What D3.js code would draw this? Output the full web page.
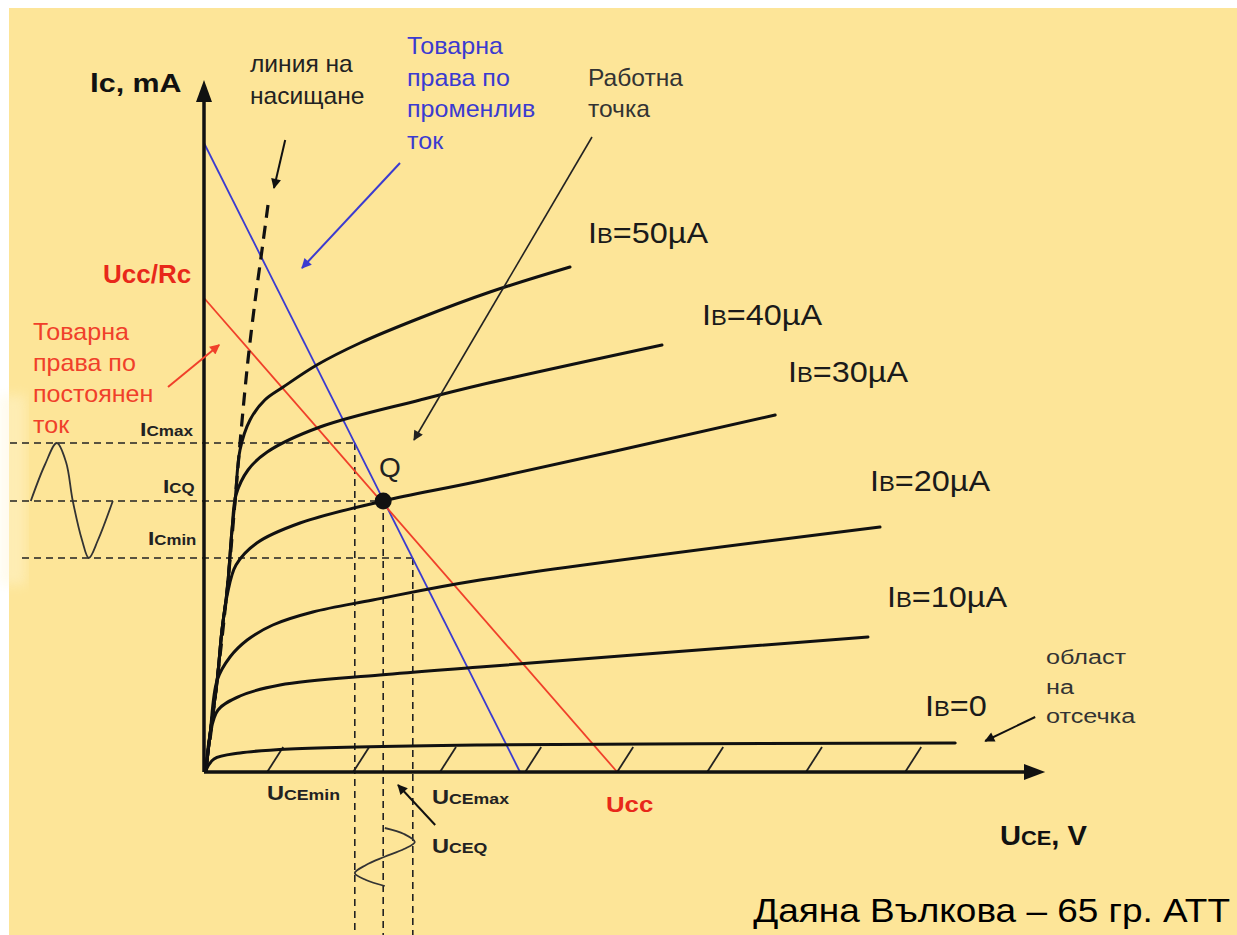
<!DOCTYPE html>
<html>
<head>
<meta charset="utf-8">
<script src="https://cdn.jsdelivr.net/npm/d3@7"></script>
<style>
  body { margin: 0; background: #fff; }
  svg { display: block; }
  text { font-family: "Liberation Sans", Arial, sans-serif; }
</style>
</head>
<body>
<div class="canvas"></div>
<script>
// base currents, µA
const baseCurrents = [0, 10, 20, 30, 40, 50];

// output characteristics, [Uce in V, Ic in mA]
const curveIb0 = [[0.05, 0.02], [0.25, 0.13], [0.9, 0.19], [2.15, 0.23], [6.9, 0.27], [18.78, 0.29]];
const curveIb10 = [[0.05, 0.02], [0.15, 0.37], [0.35, 0.62], [0.9, 0.76], [1.9, 0.87], [4.4, 0.97], [6.9, 1.05], [16.6, 1.35]];
const curveIb20 = [[0.05, 0.02], [0.15, 0.37], [0.33, 0.92], [0.65, 1.15], [1.08, 1.32], [1.72, 1.47], [2.72, 1.6], [4.22, 1.72], [6.9, 1.92], [16.9, 2.45]];
const curveIb30 = [[0.05, 0.02], [0.15, 0.37], [0.33, 0.92], [0.45, 1.42], [0.58, 1.77], [0.8, 2.07], [1.32, 2.29], [2.4, 2.49], [4.48, 2.71], [6.9, 2.91], [14.28, 3.57]];
const curveIb40 = [[0.05, 0.02], [0.15, 0.37], [0.33, 0.92], [0.45, 1.42], [0.58, 1.82], [0.7, 2.42], [0.8, 2.77], [1.1, 3.02], [1.58, 3.2], [2.9, 3.45], [5.4, 3.72], [6.9, 3.87], [11.45, 4.27]];
const curveIb50 = [[0.05, 0.02], [0.15, 0.37], [0.33, 0.92], [0.45, 1.42], [0.58, 1.82], [0.7, 2.42], [0.78, 2.72], [0.9, 3.22], [1.15, 3.52], [1.52, 3.72], [1.98, 3.85], [2.82, 4.07], [3.9, 4.29], [5.4, 4.54], [7.15, 4.8], [9.15, 5.05]];
const outputCurves = [curveIb0, curveIb10, curveIb20, curveIb30, curveIb40, curveIb50];

// saturation boundary (dashed)
const saturationLine = [[1.6, 5.67], [1.45, 5.22], [1.28, 4.72], [1.1, 4.12], [0.93, 3.42], [0.8, 2.82], [0.65, 2.12], [0.5, 1.52], [0.33, 0.92], [0.15, 0.32]];

// load lines
const dcLoadLine = [[0, 4.74], [10.33, 0]];
const acLoadLine = [[0, 6.29], [7.9, 0]];

// operating point and swing
const qPoint = [4.48, 2.71];
const icLevels = [3.29, 2.71, 2.14];   // Icmax, IcQ, Icmin
const uceLevels = [3.77, 4.48, 5.22];  // Ucemin, UceQ, Ucemax

// signal waveforms
const icWave = [[-4.33, 2.71], [-3.98, 3.07], [-3.68, 3.29], [-3.45, 3.1], [-3.28, 2.71], [-3.05, 2.32], [-2.88, 2.14], [-2.65, 2.32], [-2.28, 2.71]];
const uceWave = [[4.52, -0.56], [5.0, -0.62], [5.27, -0.7], [5.0, -0.77], [4.5, -0.85], [4.05, -0.93], [3.77, -1.01], [4.05, -1.08], [4.52, -1.14]];

// cut-off hatch marks along Uce
const cutoffHatch = [1.58, 3.73, 5.9, 8.03, 10.33, 12.58, 15.05, 17.53];

// annotation arrows [from, to]
const arrows = [
  { from: [2.03, 6.32], to: [1.75, 5.84], color: '#111', w: 2 },
  { from: [4.9, 6.09], to: [2.45, 5.04], color: '#3b3bd0', w: 2 },
  { from: [-0.9, 3.85], to: [0.38, 4.27], color: '#f0402a', w: 2 },
  { from: [9.7, 6.35], to: [5.25, 3.32], color: '#222', w: 1.6 },
  { from: [5.78, -0.53], to: [4.85, -0.13], color: '#111', w: 2 },
  { from: [20.78, 0.55], to: [19.53, 0.31], color: '#111', w: 2 }
];

const width = 1237, height = 935;

const svg = d3.select('.canvas')
  .append('svg')
  .attr('width', width)
  .attr('height', height);

// scales
const x = d3.scaleLinear().domain([0, 20]).range([204, 1004]);
const y = d3.scaleLinear().domain([0, 7]).range([772, 72]);

const defs = svg.append('defs');
defs.append('filter').attr('id', 'blur')
  .append('feGaussianBlur').attr('stdDeviation', 6);

const colors = [...new Set(arrows.map(a => a.color))];
colors.forEach((c, i) => {
  defs.append('marker')
    .attr('id', 'ah' + i)
    .attr('viewBox', '0 0 10 10')
    .attr('refX', 9).attr('refY', 5)
    .attr('markerUnits', 'userSpaceOnUse')
    .attr('markerWidth', 12).attr('markerHeight', 10)
    .attr('orient', 'auto')
    .append('path')
      .attr('d', 'M0,0 L10,5 L0,10 z')
      .attr('fill', c);
});

// panel background
svg.append('rect')
  .attr('x', 9).attr('y', 8)
  .attr('width', width - 9).attr('height', height - 8)
  .attr('fill', '#fde598');
svg.append('rect')
  .attr('x', 0).attr('y', 395)
  .attr('width', 26).attr('height', 190)
  .attr('fill', '#fff6d6')
  .attr('opacity', 0.45)
  .attr('filter', 'url(#blur)');

const line = d3.line().x(d => x(d[0])).y(d => y(d[1]));
const smooth = d3.line().x(d => x(d[0])).y(d => y(d[1])).curve(d3.curveCatmullRom.alpha(0.5));

const dashStyle = sel => sel
  .attr('fill', 'none')
  .attr('stroke', '#222')
  .attr('stroke-width', 1.6)
  .attr('stroke-dasharray', '7,5');

// dashed swing projections
const leftStart = [-4.85, -4.85, -4.55];
const bottomEnd = -1.63;
svg.append('g').selectAll('path')
  .data(icLevels)
  .enter().append('path')
    .attr('d', (d, i) => line([[leftStart[i], d], [uceLevels[i], d]]))
    .call(dashStyle);
svg.append('g').selectAll('path')
  .data(uceLevels)
  .enter().append('path')
    .attr('d', (d, i) => line([[d, icLevels[i]], [d, bottomEnd]]))
    .call(dashStyle);

// waveforms
svg.append('path')
  .attr('d', smooth(icWave))
  .attr('fill', 'none').attr('stroke', '#333').attr('stroke-width', 1.8);
svg.append('path')
  .attr('d', smooth(uceWave))
  .attr('fill', 'none').attr('stroke', '#333').attr('stroke-width', 1.8);

// hatch marks (cut-off region)
svg.append('g').selectAll('path')
  .data(cutoffHatch)
  .enter().append('path')
    .attr('d', d => line([[d, 0], [d + 0.4, 0.25]]))
    .attr('stroke', '#222').attr('stroke-width', 1.8);

// load lines
svg.append('path').attr('d', line(acLoadLine))
  .attr('stroke', '#3b3bd0').attr('stroke-width', 1.8).attr('fill', 'none');
svg.append('path').attr('d', line(dcLoadLine))
  .attr('stroke', '#f0402a').attr('stroke-width', 1.8).attr('fill', 'none');

// output characteristics
svg.append('g').selectAll('path')
  .data(outputCurves)
  .enter().append('path')
    .attr('d', smooth)
    .attr('fill', 'none')
    .attr('stroke', '#111')
    .attr('stroke-width', 3)
    .attr('stroke-linecap', 'round');

// saturation line
svg.append('path')
  .attr('d', smooth(saturationLine))
  .attr('fill', 'none')
  .attr('stroke', '#111')
  .attr('stroke-width', 3.2)
  .attr('stroke-dasharray', '13,8');

// axes with arrow tips
const axisStroke = sel => sel.attr('stroke', '#111').attr('stroke-width', 3.5);
svg.append('line')
  .attr('x1', x(0)).attr('y1', y(0)).attr('x2', x(0)).attr('y2', y(6.75))
  .call(axisStroke);
svg.append('line')
  .attr('x1', x(0)).attr('y1', y(0)).attr('x2', x(20.55)).attr('y2', y(0))
  .call(axisStroke);
svg.append('path')
  .attr('d', `M${x(0)},${y(6.92)} L${x(0) - 8},${y(6.7)} L${x(0) + 8},${y(6.7)} Z`)
  .attr('fill', '#111');
svg.append('path')
  .attr('d', `M${x(21.03)},${y(0)} L${x(20.5)},${y(0) - 8} L${x(20.5)},${y(0) + 8} Z`)
  .attr('fill', '#111');

// Q point
svg.append('circle')
  .attr('cx', x(qPoint[0])).attr('cy', y(qPoint[1]))
  .attr('r', 8.5).attr('fill', '#111');

// arrows
svg.append('g').selectAll('line')
  .data(arrows)
  .enter().append('line')
    .attr('x1', d => x(d.from[0])).attr('y1', d => y(d.from[1]))
    .attr('x2', d => x(d.to[0])).attr('y2', d => y(d.to[1]))
    .attr('stroke', d => d.color)
    .attr('stroke-width', d => d.w)
    .attr('marker-end', d => `url(#ah${colors.indexOf(d.color)})`);

// text helper: parts = [[string, size], ...]; sx stretches horizontally
const label = (px, py, parts, opts = {}) => {
  const t = svg.append('text')
    .attr('transform', `translate(${px},${py}) scale(${opts.sx || 1.1},1)`)
    .attr('fill', opts.fill || '#111')
    .attr('font-weight', opts.bold ? 'bold' : 'normal')
    .attr('text-anchor', opts.anchor || 'start');
  parts.forEach(p => t.append('tspan').attr('font-size', p[1]).text(p[0]));
  return t;
};
const lines = (px, py, rows, size, fill, gap, sx) =>
  rows.forEach((r, i) => label(px, py + i * gap, [[r, size]], { fill, sx }));

// axis titles
label(90, 92, [['I', 27], ['c, mA', 26]], { bold: true, sx: 1.17 });
label(1000, 845, [['U', 28], ['CE', 21], [', V', 28]], { bold: true, sx: 1.04 });

// base current labels
const ibLabelPos = [[925, 716], [887, 607], [870, 491], [788, 382], [702, 325], [588, 243]];
baseCurrents.forEach((ib, i) => {
  const txt = ib === 0 ? '=0' : `=${ib}µA`;
  label(ibLabelPos[i][0], ibLabelPos[i][1], [['I', 30], ['B', 22], [txt, 30]], { fill: '#1a1a1a', sx: 1.08 });
});

// annotation texts
lines(250, 72, ['линия на', 'насищане'], 23, '#222', 32, 1.07);
lines(407, 54, ['Товарна', 'права по', 'променлив', 'ток'], 23, '#3b3bd0', 31.5, 1.09);
lines(588, 86, ['Работна', 'точка'], 23, '#333', 31, 1.07);
lines(33, 340, ['Товарна', 'права по', 'постоянен', 'ток'], 23, '#f0402a', 31, 1.09);
lines(1046, 664, ['област', 'на', 'отсечка'], 21, '#333', 29.5, 1.2);

label(103, 283, [['Ucc/Rc', 25]], { bold: true, fill: '#e8281a', sx: 1.04 });
label(606, 812, [['Ucc', 23]], { bold: true, fill: '#e8281a', sx: 1.12 });

label(140, 436, [['I', 19], ['Cmax', 14]], { bold: true, fill: '#222', sx: 1.22 });
label(163, 493, [['I', 19], ['CQ', 14]], { bold: true, fill: '#222', sx: 1.2 });
label(148, 545, [['I', 19], ['Cmin', 14]], { bold: true, fill: '#222', sx: 1.2 });
label(267, 800, [['U', 20], ['CEmin', 15]], { bold: true, fill: '#222', sx: 1.18 });
label(432, 804, [['U', 20], ['CEmax', 15]], { bold: true, fill: '#222', sx: 1.18 });
label(432, 853, [['U', 20], ['CEQ', 15]], { bold: true, fill: '#222', sx: 1.18 });
label(379, 477, [['Q', 28]], { fill: '#222', sx: 1 });

label(1230, 922, [['Даяна Вълкова – 65 гр. АТТ', 33]], { anchor: 'end', fill: '#000', sx: 1.12 });
</script>
</body>
</html>
